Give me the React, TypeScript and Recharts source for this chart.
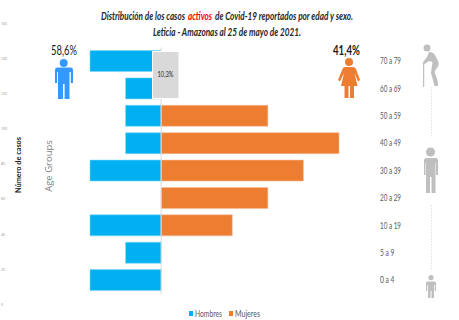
import { Bar, BarChart, Legend, ReferenceLine, XAxis, YAxis } from "recharts";

const ageGroups = ["70 a 79", "60 a 69", "50 a 59", "40 a 49", "30 a 39", "20 a 29", "10 a 19", "5 a 9", "0 a 4"];
const hombres = [2, 1, 1, 1, 2, 0, 2, 1, 2];
const mujeres = [0, 0, 3, 5, 4, 3, 2, 0, 0];
const sideTicks = ["160", "140", "120", "100", "80", "60", "40", "20", "0"];
const sideTickY = [24, 59, 94, 129, 164, 199, 235, 270, 305];

const data = ageGroups.map((group, i) => ({ group, Hombres: -hombres[i], Mujeres: mujeres[i] }));

const font = "Lato, 'Open Sans', sans-serif";
const BLUE = "#00B0F0";
const ORANGE = "#ED7D31";
const GREY = "#BFBFBF";

// condensed age label, squeezed the way a narrow face would set it
function AgeTick({ x, y, payload }: any) {
  const short = String(payload.value).length < 6;
  return (
    <text x={x} y={y + 3} fontSize={9} fontFamily={font} fill="#595959" textLength={short ? 14.5 : 21} lengthAdjust="spacingAndGlyphs">
      {payload.value}
    </text>
  );
}

function LegendRow({ payload }: any) {
  const widths = [0, 40];
  const textWidths = [27, 25];
  return (
    <svg width={90} height={14} style={{ display: "block" }}>
      {(payload || []).map((entry: any, i: number) => (
        <g key={entry.value} transform={`translate(${widths[i]},0)`}>
          <rect x={2} y={5} width={4} height={5} fill={entry.color} />
          <text x={8} y={10.5} fontSize={9} fontFamily={font} fill="#595959" textLength={textWidths[i]} lengthAdjust="spacingAndGlyphs">
            {entry.value}
          </text>
        </g>
      ))}
    </svg>
  );
}

function Decorations() {
  return (
    <svg width={459} height={320} style={{ position: "absolute", left: 0, top: 0, pointerEvents: "none" }}>
      <g fontFamily={font} fontWeight="bold" fontStyle="italic" fontSize={10.5} fill="#262626">
        <text x={101} y={20} textLength={84} lengthAdjust="spacingAndGlyphs">Distribución de los casos</text>
        <text x={188} y={20} textLength={24} lengthAdjust="spacingAndGlyphs" fill="#FF0000">activos</text>
        <text x={215} y={20} textLength={138} lengthAdjust="spacingAndGlyphs">de Covid-19 reportados por edad y sexo.</text>
        <text x={153} y={36} textLength={148} lengthAdjust="spacingAndGlyphs">Leticia - Amazonas al 25 de mayo de 2021.</text>
      </g>

      {sideTicks.map((t, i) => (
        <text key={t} x={1} y={sideTickY[i] + 1} fontSize={3.5} fill="#8c8c8c" fontFamily="Open Sans">{t}</text>
      ))}
      <text transform="translate(21,165) rotate(-90)" textAnchor="middle" fontSize={7} fontWeight="bold" fontFamily={font} fill="#262626" textLength={56} lengthAdjust="spacingAndGlyphs">Número de casos</text>
      <text transform="translate(52,166) rotate(-90)" textAnchor="middle" fontSize={9.5} fontFamily="Open Sans" fill="#7f7f7f">Age Groups</text>

      {/* share of the 60+ groups */}
      <rect x={152.5} y={51.5} width={26.5} height={47} fill="#D9D9D9" stroke="#fff" />
      <text x={157.5} y={77} fontSize={7} fontFamily={font} fill="#262626" textLength={16} lengthAdjust="spacingAndGlyphs">10,3%</text>

      <text x={51} y={55} fontSize={13} fontFamily={font} fill="#1a1a1a" textLength={26} lengthAdjust="spacingAndGlyphs">58,6%</text>
      <text x={333} y={55} fontSize={13} fontWeight="bold" fontFamily={font} fill="#1a1a1a" textLength={27} lengthAdjust="spacingAndGlyphs">41,4%</text>

      {/* man */}
      <g fill="#3399FF">
        <circle cx={63.7} cy={63} r={4} />
        <path d="M57 67.5H71Q73 67.5 73 70V83H70.8V72H69.5V99H64.6V84H63V99H58V72H57V83H55V70Q55 67.5 57 67.5Z" />
      </g>
      {/* woman */}
      <g fill={ORANGE}>
        <circle cx={349} cy={62} r={4} />
        <path d="M345 67H353Q355 67 356 69L360 80L358 81.5L354.5 73L357.5 86H354V98H350V86H348.5V98H344.5V86H341L344 73L340 81.5L338 80L342.5 69Q343 67 345 67Z" />
      </g>

      {/* life stages */}
      <g fill={GREY}>
        <circle cx={427} cy={48} r={3.5} />
        <path d="M429 52Q433 52 435 55L438.5 62Q439.5 66 436 69L434.5 72L437.5 80L438 86H434.5L433 80L431 73L432.5 62L429 61L424 64.5L422.5 63L427 57Z" />
        <rect x={423} y={64} width={1.2} height={23} />
        <circle cx={430.5} cy={152} r={4.6} />
        <path d="M426 158H435.5Q438 158 438 160.5V175H436V163H435.5V193H431.5V177H430V193H426V163H425.5V175H424V160.5Q424 158 426 158Z" />
        <circle cx={431} cy={277.5} r={2.6} />
        <path d="M428 281.5H434Q436 281.5 436 283V291H434.8V285H434V298H431.5V291H430.5V298H428V285H427.2V291H426V283Q426 281.5 428 281.5Z" />
      </g>
      <g stroke="#D9D9D9" strokeWidth={0.8} strokeDasharray="1.5 1.5">
        <line x1={431.5} y1={87} x2={431.5} y2={137} />
        <line x1={431.5} y1={205} x2={431.5} y2={270} />
      </g>
    </svg>
  );
}

export default function App() {
  return (
    <div style={{ position: "absolute", left: 0, top: 0, width: 459, height: 320, background: "#fff" }}>
      <BarChart
        width={459}
        height={320}
        data={data}
        layout="vertical"
        stackOffset="sign"
        barCategoryGap={3}
        margin={{ top: 47.5, right: 0, bottom: 12, left: 90 }}
      >
        <XAxis type="number" domain={[-2, 5]} hide />
        <YAxis
          type="category"
          dataKey="group"
          orientation="right"
          width={120}
          axisLine={false}
          tickLine={false}
          tickMargin={35}
          interval={0}
          tick={<AgeTick />}
        />
        <Bar dataKey="Hombres" stackId="a" fill={BLUE} stroke="#7FD7F7" strokeWidth={0.6} isAnimationActive={false} />
        <Bar dataKey="Mujeres" stackId="a" fill={ORANGE} stroke="#F6BE98" strokeWidth={0.6} isAnimationActive={false} />
        <ReferenceLine x={0} stroke="#D9D9D9" strokeWidth={1} />
        <Legend
          content={<LegendRow />}
          wrapperStyle={{ position: "absolute", left: 187, top: 306, width: 90, height: 14 }}
        />
      </BarChart>
      <Decorations />
    </div>
  );
}
